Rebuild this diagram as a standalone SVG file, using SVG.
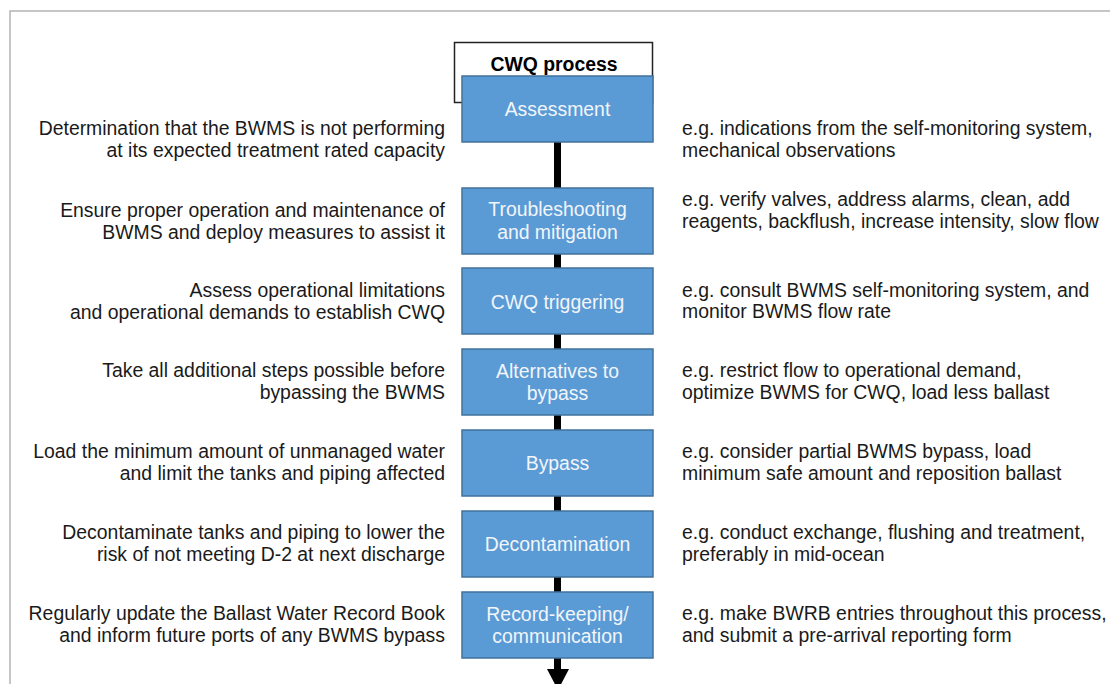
<svg xmlns="http://www.w3.org/2000/svg" width="1110" height="684" viewBox="0 0 1110 684">
<style>
.frame{fill:none;stroke:#b4b4b4;stroke-width:1.5}
.box{fill:#5B9BD5;stroke:#41719C;stroke-width:1.5}
.bt{font-family:"Liberation Sans",Arial,sans-serif;font-size:19.4px;fill:#F2F5FA;text-anchor:middle}
.lt{font-family:"Liberation Sans",Arial,sans-serif;font-size:19.4px;fill:#1a1a1a;text-anchor:end}
.rt{font-family:"Liberation Sans",Arial,sans-serif;font-size:19.4px;fill:#1a1a1a;text-anchor:start}
.title{font-family:"Liberation Sans",Arial,sans-serif;font-size:19.4px;font-weight:bold;fill:#000;text-anchor:middle}
</style>
<rect width="1110" height="684" fill="#fff"/>
<path class="frame" d="M10,700 V11 H1120"/>
<g id="title">
<rect x="454.5" y="42.5" width="198" height="60" fill="#fff" stroke="#222" stroke-width="1.5"/>
<text class="title" x="554" y="71">CWQ process</text>
</g>
<g id="connectors">
<line x1="557.5" y1="142" x2="557.5" y2="670" stroke="#000" stroke-width="7"/>
<polygon points="547,669 569,669 558,690" fill="#000"/>
</g>
<g id="assessment">
<rect class="box" x="462" y="76" width="191" height="66"/>
<text class="bt" x="557.5" y="116">Assessment</text>
<text class="lt" x="445" y="135">Determination that the BWMS is not performing</text>
<text class="lt" x="445" y="157">at its expected treatment rated capacity</text>
<text class="rt" x="682" y="135">e.g. indications from the self-monitoring system,</text>
<text class="rt" x="682" y="156.5">mechanical observations</text>
</g>
<g id="troubleshooting">
<rect class="box" x="462" y="188" width="191" height="66"/>
<text class="bt" x="557.5" y="216">Troubleshooting</text>
<text class="bt" x="557.5" y="238.5">and mitigation</text>
<text class="lt" x="445" y="216.5">Ensure proper operation and maintenance of</text>
<text class="lt" x="445" y="238.5">BWMS and deploy measures to assist it</text>
<text class="rt" x="682" y="205.5">e.g. verify valves, address alarms, clean, add</text>
<text class="rt" x="682" y="227.5">reagents, backflush, increase intensity, slow flow</text>
</g>
<g id="cwq-triggering">
<rect class="box" x="462" y="268" width="191" height="66"/>
<text class="bt" x="557.5" y="308.5">CWQ triggering</text>
<text class="lt" x="445" y="296.5">Assess operational limitations</text>
<text class="lt" x="445" y="318.5">and operational demands to establish CWQ</text>
<text class="rt" x="682" y="296.5">e.g. consult BWMS self-monitoring system, and</text>
<text class="rt" x="682" y="318">monitor BWMS flow rate</text>
</g>
<g id="alternatives">
<rect class="box" x="462" y="349" width="191" height="66"/>
<text class="bt" x="557.5" y="378">Alternatives to</text>
<text class="bt" x="557.5" y="400">bypass</text>
<text class="lt" x="445" y="377">Take all additional steps possible before</text>
<text class="lt" x="445" y="399">bypassing the BWMS</text>
<text class="rt" x="682" y="377">e.g. restrict flow to operational demand,</text>
<text class="rt" x="682" y="399">optimize BWMS for CWQ, load less ballast</text>
</g>
<g id="bypass">
<rect class="box" x="462" y="430" width="191" height="66"/>
<text class="bt" x="557.5" y="470">Bypass</text>
<text class="lt" x="445" y="457.5">Load the minimum amount of unmanaged water</text>
<text class="lt" x="445" y="480">and limit the tanks and piping affected</text>
<text class="rt" x="682" y="457.5">e.g. consider partial BWMS bypass, load</text>
<text class="rt" x="682" y="480">minimum safe amount and reposition ballast</text>
</g>
<g id="decontamination">
<rect class="box" x="462" y="511" width="191" height="66"/>
<text class="bt" x="557.5" y="551">Decontamination</text>
<text class="lt" x="445" y="539">Decontaminate tanks and piping to lower the</text>
<text class="lt" x="445" y="561">risk of not meeting D-2 at next discharge</text>
<text class="rt" x="682" y="539">e.g. conduct exchange, flushing and treatment,</text>
<text class="rt" x="682" y="561">preferably in mid-ocean</text>
</g>
<g id="record-keeping">
<rect class="box" x="462" y="592" width="191" height="66"/>
<text class="bt" x="557.5" y="620.5">Record-keeping/</text>
<text class="bt" x="557.5" y="642.5">communication</text>
<text class="lt" x="445" y="619.5">Regularly update the Ballast Water Record Book</text>
<text class="lt" x="445" y="642">and inform future ports of any BWMS bypass</text>
<text class="rt" x="682" y="619.5">e.g. make BWRB entries throughout this process,</text>
<text class="rt" x="682" y="642">and submit a pre-arrival reporting form</text>
</g>
</svg>
